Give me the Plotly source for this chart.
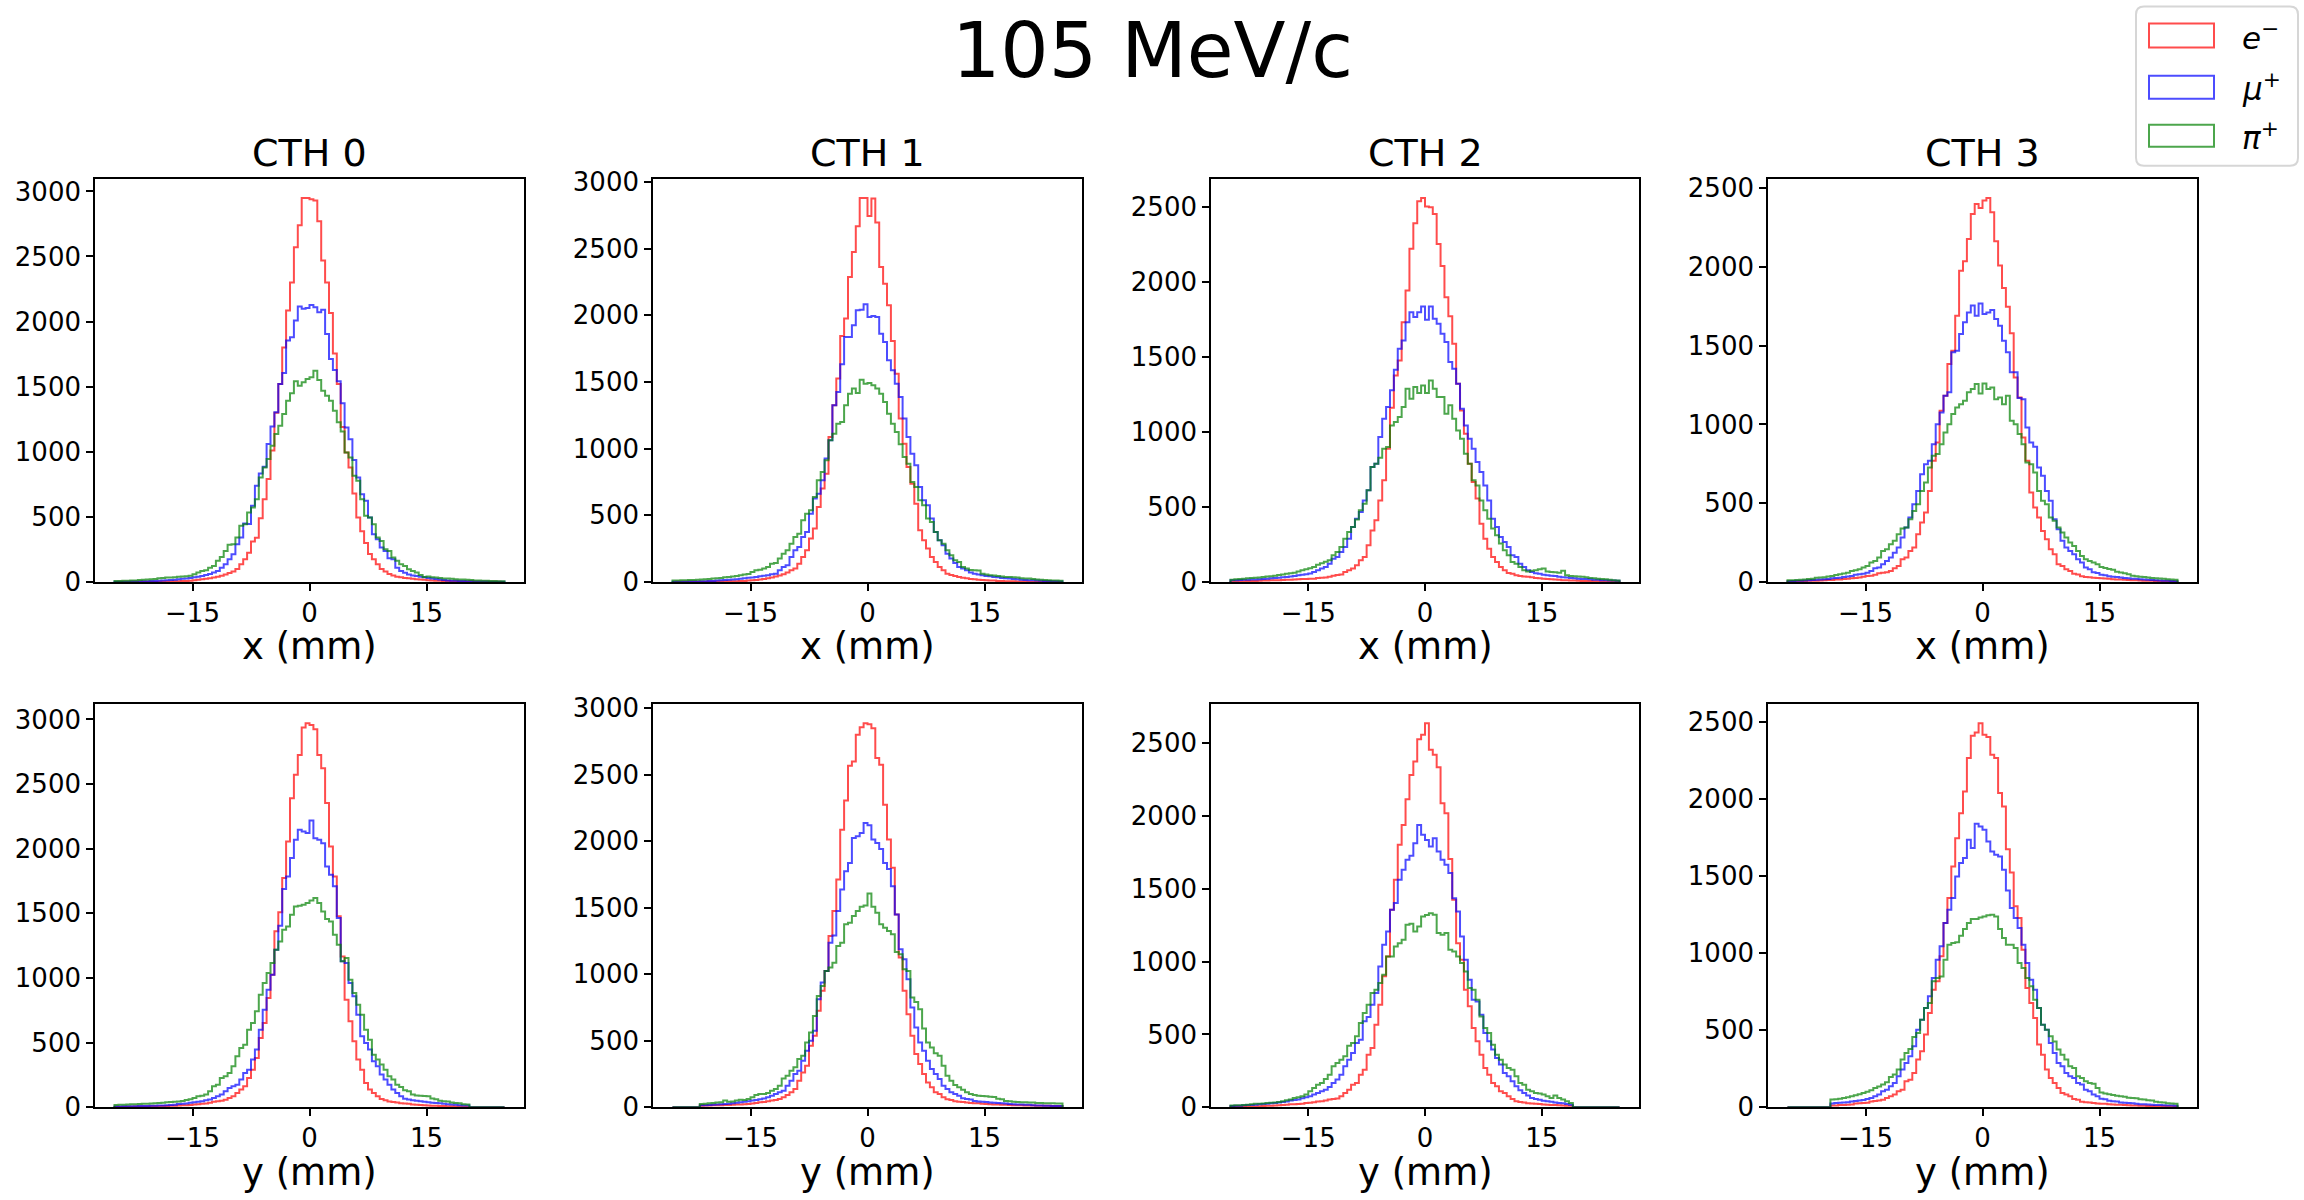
import numpy as np
import plotly.graph_objects as go

# ---------------- data ----------------
TITLE = "105 MeV/c"
DETECTORS = ["CTH 0", "CTH 1", "CTH 2", "CTH 3"]
COORDS = ["x", "y"]
AXIS_LABELS = ["x (mm)", "y (mm)"]
SPECIES_LABELS = ["<i>e</i><sup>−</sup>", "<i>μ</i><sup>+</sup>", "<i>π</i><sup>+</sup>"]
SPECIES_COLORS = ["rgba(255,0,0,0.7)", "rgba(0,0,255,0.7)", "rgba(0,128,0,0.7)"]
X_TICKS = [-15, 0, 15]
Y_TICK_STEP = 500
BIN_LO, BIN_HI, N_BINS = -25.0, 25.0, 100

RED_X0 = [0,1,1,1,1,2,2,2,2,2,
          2,2,3,3,4,5,6,7,8,10,
          13,16,20,24,28,34,40,48,58,68,
          80,100,135,175,225,310,340,490,635,790,
          1010,1300,1520,1800,2085,2300,2570,2740,2950,2950,
          2940,2930,2770,2470,2300,2065,1755,1520,1190,995,
          880,680,495,390,300,215,175,135,100,80,
          62,50,40,36,30,28,24,20,18,16,
          13,11,10,9,8,7,6,5,4,4,
          3,3,2,2,2,1,1,1,1,0]
BLUE_X0 = [1,1,1,2,3,3,4,5,6,7,
           8,10,11,13,15,17,20,24,27,31,
           36,40,46,54,62,72,85,110,136,174,
           213,290,341,449,446,585,738,833,885,1060,
           1195,1303,1520,1605,1854,1880,2008,2115,2098,2105,
           2128,2110,2072,2090,1905,1713,1628,1541,1372,1187,
           1097,936,803,674,623,495,367,328,264,238,
           182,174,110,85,70,58,50,46,40,36,
           30,26,22,18,15,12,10,9,8,7,
           6,5,4,4,3,3,2,2,1,1]
GREEN_X0 = [7,8,9,10,11,12,14,16,18,20,
            22,29,31,34,35,36,40,42,44,48,
            59,72,85,90,110,123,162,192,238,285,
            290,341,431,444,533,572,636,803,880,944,
            1046,1136,1200,1290,1392,1449,1541,1508,1533,1559,
            1572,1623,1551,1469,1431,1392,1315,1226,1156,995,
            956,815,777,636,508,495,444,341,315,251,
            238,187,162,136,123,97,85,72,54,38,
            42,36,34,30,26,27,24,21,19,18,
            17,14,12,12,10,9,8,7,6,5]

RED_X1 = [0,1,1,1,1,2,2,2,2,3,
          3,3,4,4,5,5,6,7,8,10,
          12,15,18,22,27,33,40,48,58,70,
          87,100,137,187,237,325,400,562,700,812,
          1087,1325,1525,1845,1975,2287,2475,2667,2880,2880,
          2745,2875,2695,2362,2237,2075,1807,1562,1225,1037,
          862,737,587,387,312,250,187,150,112,87,
          62,52,44,38,32,27,23,20,17,15,
          13,11,10,8,7,6,5,5,4,3,
          3,2,2,2,1,1,1,1,0,0]
BLUE_X1 = [1,1,2,2,3,3,4,5,6,7,
           8,10,12,14,16,18,21,24,28,31,
           34,38,42,46,50,57,62,87,112,125,
           187,237,262,337,375,512,625,662,762,925,
           1062,1325,1425,1632,1837,1837,1925,2037,2042,2082,
           1987,1995,1987,1862,1800,1662,1587,1487,1387,1225,
           1087,962,875,712,612,575,475,375,312,275,
           212,175,142,112,100,87,70,62,56,50,
           45,42,38,35,30,27,25,22,20,17,
           15,13,12,10,9,8,7,6,5,4]
GREEN_X1 = [10,11,12,13,14,15,17,18,20,22,
            25,28,30,35,37,40,45,50,55,60,
            75,87,92,100,112,137,142,175,212,237,
            287,337,362,462,512,537,637,762,825,912,
            1062,1112,1187,1200,1325,1412,1450,1417,1517,1487,
            1492,1475,1450,1412,1350,1262,1187,1125,1032,937,
            887,750,712,612,575,475,450,375,312,287,
            237,200,162,150,112,100,90,87,85,62,
            55,50,48,45,40,38,37,35,33,28,
            26,25,23,18,16,14,12,11,10,9]

RED_X2 = [3,4,5,5,6,7,7,8,9,10,
          11,12,12,13,14,15,17,18,19,20,
          21,22,26,28,30,34,42,46,50,67,
          78,89,111,144,167,244,344,411,544,678,
          889,1162,1378,1478,1733,1944,2222,2393,2540,2562,
          2504,2500,2455,2255,2107,1900,1773,1589,1322,1144,
          989,789,667,556,389,289,222,167,133,100,
          78,60,54,45,40,37,35,32,27,24,
          22,20,18,16,14,12,11,10,9,8,
          7,6,6,5,4,4,3,3,2,2]
BLUE_X2 = [11,12,13,14,15,16,17,18,20,22,
           24,26,28,31,33,37,40,44,48,52,
           56,67,78,89,100,122,155,167,200,233,
           289,367,422,467,544,611,767,789,967,1089,
           1167,1278,1416,1556,1611,1733,1800,1767,1800,1838,
           1749,1838,1756,1722,1656,1600,1467,1422,1322,1156,
           1044,956,889,800,733,644,544,422,367,300,
           267,233,178,167,122,100,78,67,58,54,
           48,44,42,40,34,31,29,27,25,22,
           20,19,18,15,14,12,11,10,9,8]
GREEN_X2 = [15,18,20,22,24,26,28,30,33,36,
            38,42,46,50,55,58,62,70,78,85,
            92,100,115,125,135,145,178,200,233,289,
            333,367,416,478,522,611,767,789,829,889,
            900,1044,1067,1100,1167,1289,1222,1300,1260,1311,
            1260,1344,1289,1233,1233,1122,1178,1089,1011,956,
            856,789,678,644,544,478,422,356,311,256,
            211,178,133,122,100,78,70,75,78,85,
            89,70,67,64,62,75,45,40,38,36,
            34,32,26,24,22,20,18,14,12,10]

RED_X3 = [3,4,5,6,6,7,8,8,9,10,
          12,13,15,16,18,20,23,25,28,33,
          38,40,45,56,59,62,70,87,102,144,
          155,197,218,303,377,441,578,769,886,1087,
          1182,1384,1468,1691,1977,2036,2178,2337,2401,2375,
          2422,2439,2348,2164,2009,1867,1748,1579,1299,1172,
          918,769,568,473,409,324,271,208,176,112,
          102,80,70,52,47,36,32,30,27,25,
          23,22,20,17,16,15,14,12,11,10,
          9,8,7,7,6,5,5,4,3,3]
BLUE_X3 = [5,6,7,8,9,10,12,14,15,17,
           19,23,25,27,32,34,38,46,49,52,
           59,70,87,91,112,133,155,186,218,282,
           345,409,494,578,684,748,769,875,1002,1076,
           1182,1204,1458,1468,1574,1649,1712,1755,1691,1769,
           1702,1712,1727,1670,1627,1532,1458,1331,1331,1168,
           1161,981,886,858,727,674,578,515,398,335,
           261,218,197,176,144,123,91,80,62,57,
           46,42,36,33,31,29,25,23,21,20,
           17,15,14,12,10,9,8,7,6,5]
GREEN_X3 = [10,11,12,14,16,18,20,26,28,30,
            34,38,44,49,53,59,70,74,80,91,
            102,123,133,155,197,208,239,261,303,340,
            345,398,451,494,578,631,727,801,812,875,
            949,1002,1066,1108,1129,1151,1204,1225,1257,1197,
            1261,1225,1235,1161,1172,1129,1182,1023,1002,939,
            875,759,748,695,578,515,494,409,388,345,
            314,282,250,229,197,165,144,133,123,112,
            95,88,82,78,64,60,56,49,40,36,
            33,31,29,25,23,22,20,17,15,14]

RED_Y0 = [2,3,3,4,4,5,5,6,6,7,
          8,8,9,10,11,12,13,15,16,18,
          21,24,28,30,35,43,46,50,59,72,
          85,111,137,162,227,291,381,536,652,845,
          1026,1361,1508,1773,2056,2391,2572,2726,2938,2971,
          2958,2925,2726,2623,2353,2018,1786,1477,1167,832,
          665,510,369,291,188,137,111,85,64,54,
          44,40,37,32,29,27,22,20,18,16,
          14,12,11,10,9,8,7,6,5,4,
          3,0,0,0,0,0,0,0,0,0]
BLUE_Y0 = [5,6,7,7,8,8,9,9,10,11,
           12,13,14,16,18,20,25,27,30,34,
           39,42,46,54,60,72,85,98,124,149,
           162,175,214,265,291,369,446,600,755,910,
           1026,1219,1404,1688,1786,1928,2069,2147,2134,2121,
           2219,2082,2069,2043,1863,1799,1709,1464,1129,1116,
           961,858,716,549,497,446,356,317,253,214,
           175,137,111,85,66,60,55,50,46,43,
           38,35,33,31,27,24,22,20,16,14,
           13,0,0,0,0,0,0,0,0,0]
GREEN_Y0 = [18,19,20,21,23,24,26,27,28,29,
            31,33,35,38,40,42,45,48,57,62,
            72,85,90,98,124,162,175,227,240,265,
            317,394,459,484,600,652,742,871,961,1039,
            1116,1219,1283,1374,1399,1489,1554,1559,1567,1580,
            1600,1618,1580,1515,1456,1438,1335,1258,1129,1155,
            987,884,794,716,600,523,407,369,330,291,
            240,214,175,157,131,124,98,92,90,88,
            86,68,62,50,46,44,36,33,31,24,
            21,0,0,0,0,0,0,0,0,0]

RED_Y1 = [0,0,0,0,0,0,0,12,13,14,
          15,15,16,17,17,18,20,21,23,25,
          28,32,37,40,45,50,55,62,75,92,
          112,137,200,262,312,462,537,725,875,1025,
          1287,1475,1712,2087,2307,2567,2600,2800,2857,2887,
          2880,2850,2625,2575,2275,2012,1800,1450,1125,875,
          700,537,400,325,250,187,150,112,100,75,
          60,55,46,42,40,35,33,31,30,26,
          24,22,21,20,19,18,17,16,16,15,
          14,13,13,12,12,11,11,10,10,9]
BLUE_Y1 = [0,0,0,0,0,0,0,15,16,17,
           18,20,23,25,27,30,34,37,41,46,
           50,54,60,66,75,87,100,112,125,162,
           200,250,275,350,425,500,575,812,937,1025,
           1237,1292,1475,1637,1775,1837,2025,2037,2062,2137,
           2120,2012,1987,1942,1837,1792,1662,1450,1187,1112,
           962,750,600,487,425,350,287,250,212,162,
           137,112,100,87,68,62,58,48,44,42,
           40,36,34,32,30,28,25,23,21,20,
           19,18,15,14,13,12,11,10,10,9]
GREEN_Y1 = [0,0,0,0,0,0,0,25,26,31,
            33,36,38,50,42,44,50,57,55,62,
            75,92,100,100,107,125,137,162,217,237,
            275,300,362,387,487,562,687,837,912,1025,
            1050,1087,1212,1237,1375,1387,1437,1475,1507,1517,
            1607,1507,1462,1375,1350,1325,1300,1167,1150,1037,
            1025,825,792,737,592,487,450,407,387,312,
            237,200,167,150,132,112,100,92,86,84,
            82,80,78,64,60,48,45,42,40,38,
            37,36,35,33,32,31,30,30,29,28]

RED_Y2 = [3,4,4,5,5,6,6,7,8,10,
          11,12,13,15,17,20,21,23,25,29,
          31,34,40,42,46,54,57,60,75,98,
          121,155,167,224,258,361,407,567,704,899,
          1036,1356,1562,1802,1939,2115,2282,2374,2527,2557,
          2637,2454,2420,2335,2088,2019,1704,1425,1127,1013,
          807,693,544,453,361,270,224,167,144,110,
          98,75,57,41,36,33,28,26,24,22,
          19,17,16,15,13,12,11,10,0,0,
          0,0,0,0,0,0,0,0,0,0]
BLUE_Y2 = [9,10,11,13,15,16,18,20,23,25,
           27,30,33,36,40,46,50,54,62,68,
           75,87,98,110,121,140,167,190,224,281,
           327,373,441,464,590,620,704,784,967,1116,
           1207,1356,1402,1562,1631,1699,1727,1813,1939,1871,
           1836,1791,1848,1756,1699,1665,1608,1436,1345,1173,
           1013,876,739,727,636,510,453,396,338,293,
           236,213,178,144,117,98,80,64,56,51,
           44,41,38,33,30,28,22,18,0,0,
           0,0,0,0,0,0,0,0,0,0]
GREEN_Y2 = [12,13,14,15,18,20,24,25,26,29,
            31,33,36,41,48,53,64,69,75,87,
            110,133,155,167,194,224,281,304,327,350,
            423,441,487,579,647,704,784,807,853,910,
            1036,1036,1104,1127,1150,1253,1260,1207,1242,1310,
            1320,1333,1322,1196,1185,1196,1082,1070,1036,990,
            933,819,807,739,624,544,510,430,361,327,
            293,270,258,213,167,155,121,110,98,94,
            87,75,64,80,64,53,41,30,0,0,
            0,0,0,0,0,0,0,0,0,0]

RED_Y3 = [0,0,0,0,0,0,0,0,0,0,
          0,11,12,14,15,16,18,24,26,28,
          30,38,40,44,48,60,71,82,104,114,
          168,179,222,309,363,471,611,762,816,978,
          1194,1356,1561,1744,1906,2047,2263,2407,2429,2489,
          2414,2399,2284,2263,2036,1950,1673,1522,1302,1226,
          1021,773,676,579,406,341,244,190,158,125,
          93,82,71,54,48,36,33,31,27,25,
          23,22,19,18,17,16,15,13,12,11,
          10,10,9,8,7,7,6,6,5,5]
BLUE_Y3 = [0,0,0,0,0,0,0,0,0,0,
           0,24,27,29,31,33,38,40,44,47,
           54,60,71,82,104,114,136,158,201,244,
           287,330,395,503,568,643,719,838,956,1043,
           1194,1280,1356,1496,1583,1615,1734,1680,1837,1820,
           1798,1723,1658,1637,1626,1539,1405,1291,1226,1162,
           1054,935,827,762,643,535,503,417,352,287,
           266,222,201,190,158,147,114,104,82,71,
           56,52,42,39,37,31,29,27,26,22,
           20,19,18,16,15,14,13,12,11,10]
GREEN_Y3 = [0,0,0,0,0,0,0,0,0,0,
            0,50,52,55,60,65,71,78,85,93,
            100,110,125,135,147,162,196,212,244,309,
            352,378,455,481,568,643,676,816,838,848,
            956,1054,1064,1069,1112,1155,1194,1220,1220,1230,
            1237,1244,1248,1237,1155,1097,1054,1054,1032,935,
            902,838,784,697,643,535,503,460,427,374,
            341,309,266,255,201,190,168,158,153,125,
            96,90,84,80,74,71,68,62,60,58,
            52,50,46,44,36,33,31,26,24,22]

HISTS = {
    ("x", 0): [RED_X0, BLUE_X0, GREEN_X0],
    ("x", 1): [RED_X1, BLUE_X1, GREEN_X1],
    ("x", 2): [RED_X2, BLUE_X2, GREEN_X2],
    ("x", 3): [RED_X3, BLUE_X3, GREEN_X3],
    ("y", 0): [RED_Y0, BLUE_Y0, GREEN_Y0],
    ("y", 1): [RED_Y1, BLUE_Y1, GREEN_Y1],
    ("y", 2): [RED_Y2, BLUE_Y2, GREEN_Y2],
    ("y", 3): [RED_Y3, BLUE_Y3, GREEN_Y3],
}

# ---------------- layout geometry (target pixels in the photo) ----------------
W, H = 2304, 1200
COL_PX = [(95, 524), (653, 1082), (1211, 1639), (1768, 2197)]
ROW_PX = [(178, 581), (703, 1106)]
FONT = "DejaVu Sans"

# vertical calibration of the page photo (measured from a previous render)
V_OFF, V_SCALE = 11.4, 0.9769


def px(x):
    return x / W


def py(y):
    # target photo pixel -> paper fraction
    yf = (y - V_OFF) / V_SCALE
    return 1 - yf / H


edges = np.linspace(BIN_LO, BIN_HI, N_BINS + 1)
step_x = [edges[0]] + list(edges[:-1]) + [edges[-1]]

fig = go.Figure()
layout = dict(
    width=W, height=H, margin=dict(l=0, r=0, t=0, b=0),
    paper_bgcolor="white", plot_bgcolor="white", showlegend=False,
    font=dict(family=FONT, color="black"),
)
annotations = []
shapes = []

for r, coord in enumerate(COORDS):
    for c, det in enumerate(DETECTORS):
        k = r * 4 + c + 1
        xn = "x" if k == 1 else f"x{k}"
        yn = "y" if k == 1 else f"y{k}"
        series = HISTS[(coord, c)]
        for counts, color in zip(series, SPECIES_COLORS):
            assert len(counts) == N_BINS
            fig.add_trace(go.Scatter(
                x=step_x, y=[0] + list(counts) + [0], mode="lines",
                line=dict(color=color, width=2, shape="hv"),
                xaxis=xn, yaxis=yn, hoverinfo="skip",
            ))
        ymax = max(max(s) for s in series) * 1.05
        x0, x1 = COL_PX[c]
        y0, y1 = ROW_PX[r]
        common = dict(
            ticks="outside", ticklen=7, tickwidth=1.6, tickcolor="black",
            showline=True, linecolor="black", linewidth=1.6, mirror=True,
            showgrid=False, zeroline=False,
            tickfont=dict(size=26, family=FONT, color="black"),
        )
        layout["xaxis" if k == 1 else f"xaxis{k}"] = dict(
            domain=[px(x0), px(x1)], range=[BIN_LO * 1.1, BIN_HI * 1.1],
            tickvals=X_TICKS, anchor=yn, **common)
        layout["yaxis" if k == 1 else f"yaxis{k}"] = dict(
            domain=[py(y1), py(y0)], range=[0, ymax],
            tick0=0, dtick=Y_TICK_STEP, tickformat="d", anchor=xn, **common)
        cx = px((x0 + x1) / 2)
        if r == 0:
            annotations.append(dict(
                text=det, x=cx, y=py(y0), xref="paper", yref="paper",
                xanchor="center", yanchor="bottom", yshift=2, showarrow=False,
                font=dict(size=38, family=FONT, color="black")))
        annotations.append(dict(
            text=AXIS_LABELS[r], x=cx, y=py(y1 + 65), xref="paper", yref="paper",
            xanchor="center", yanchor="middle", showarrow=False,
            font=dict(size=37, family=FONT, color="black")))

annotations.append(dict(
    text=TITLE, x=0.5, y=py(50), xref="paper", yref="paper",
    xanchor="center", yanchor="middle", showarrow=False,
    font=dict(size=76, family=FONT, color="black")))

# legend (matplotlib-style patches)
lx0, lx1, ly0, ly1 = 2136, 2298, 6, 165
rad = 8
path = (f"M{px(lx0+rad)},{py(ly0)} L{px(lx1-rad)},{py(ly0)} Q{px(lx1)},{py(ly0)} {px(lx1)},{py(ly0+rad)} "
        f"L{px(lx1)},{py(ly1-rad)} Q{px(lx1)},{py(ly1)} {px(lx1-rad)},{py(ly1)} "
        f"L{px(lx0+rad)},{py(ly1)} Q{px(lx0)},{py(ly1)} {px(lx0)},{py(ly1-rad)} "
        f"L{px(lx0)},{py(ly0+rad)} Q{px(lx0)},{py(ly0)} {px(lx0+rad)},{py(ly0)} Z")
shapes.append(dict(type="path", path=path, xref="paper", yref="paper",
                   line=dict(color="rgb(214,214,214)", width=2), fillcolor="white"))
ROW_Y = [(23, 47), (75, 98), (124, 146)]
for (ya, yb), color, lab in zip(ROW_Y, SPECIES_COLORS, SPECIES_LABELS):
    shapes.append(dict(type="rect", xref="paper", yref="paper",
                       x0=px(2149), x1=px(2214), y0=py(yb), y1=py(ya),
                       line=dict(color=color, width=2), fillcolor="rgba(0,0,0,0)"))
    annotations.append(dict(
        text=lab, x=px(2240), y=py((ya + yb) / 2), xref="paper", yref="paper",
        xanchor="left", yanchor="middle", showarrow=False,
        font=dict(size=31, family=FONT, color="black")))

layout["annotations"] = annotations
layout["shapes"] = shapes
fig.update_layout(**layout)
fig.write_html("out.html")
